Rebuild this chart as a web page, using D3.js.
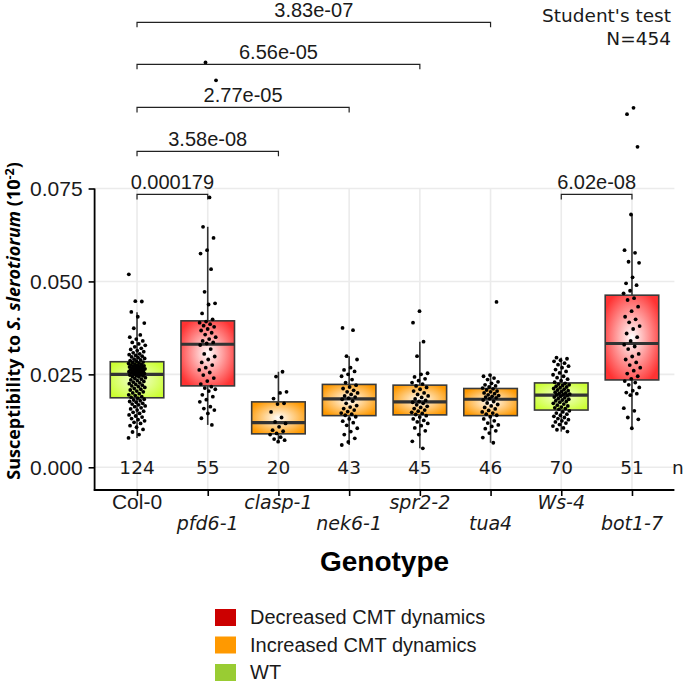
<!DOCTYPE html>
<html>
<head>
<meta charset="utf-8">
<script src="https://cdn.jsdelivr.net/npm/d3@7"></script>
<style>
  html, body { margin: 0; padding: 0; background: #fff; }
  svg { display: block; }
</style>
</head>
<body>
<svg id="chart" width="685" height="683"></svg>
<script>
// ---------------- DATA ----------------
const categories = ["Col-0", "pfd6-1", "clasp-1", "nek6-1", "spr2-2", "tua4", "Ws-4", "bot1-7"];
const italicLabel = [false, true, true, true, true, true, true, true];
const groupType = ["WT", "Decreased", "Increased", "Increased", "Increased", "Increased", "WT", "Decreased"];
const counts = [124, 55, 20, 43, 45, 46, 70, 51];

const q1 =          [0.0187, 0.0219, 0.0090, 0.0139, 0.0141, 0.0139, 0.0154, 0.0235];
const medians =     [0.0250, 0.0331, 0.0120, 0.0184, 0.0176, 0.0183, 0.0194, 0.0333];
const q3 =          [0.0284, 0.0394, 0.0176, 0.0223, 0.0221, 0.0212, 0.0227, 0.0463];
const whiskerLow =  [0.0079, 0.0114, 0.0069, 0.0060, 0.0051, 0.0066, 0.0096, 0.0105];
const whiskerHigh = [0.0417, 0.0647, 0.0257, 0.0299, 0.0338, 0.0248, 0.0295, 0.0680];

const ptsCol0 = [0.0079, 0.0088, 0.0095, 0.0102, 0.0108, 0.0112, 0.0118, 0.0121, 0.0125, 0.0128, 0.0131, 0.0135, 0.0138, 0.0141, 0.0145, 0.0148, 0.0151, 0.0154, 0.0157, 0.0160, 0.0163, 0.0165, 0.0168, 0.0170, 0.0172, 0.0175, 0.0177, 0.0179, 0.0181, 0.0183, 0.0186,
  0.0188, 0.0190, 0.0193, 0.0195, 0.0198, 0.0200, 0.0203, 0.0205, 0.0208, 0.0210, 0.0212, 0.0215, 0.0217, 0.0219, 0.0221, 0.0223, 0.0225, 0.0227, 0.0229, 0.0231, 0.0233, 0.0235, 0.0237, 0.0239, 0.0241, 0.0243, 0.0244, 0.0246, 0.0247, 0.0248, 0.0249,
  0.0251, 0.0252, 0.0253, 0.0254, 0.0255, 0.0256, 0.0257, 0.0258, 0.0259, 0.0260, 0.0261, 0.0262, 0.0263, 0.0264, 0.0265, 0.0266, 0.0267, 0.0268, 0.0269, 0.0270, 0.0271, 0.0272, 0.0273, 0.0274, 0.0275, 0.0276, 0.0277, 0.0279, 0.0280, 0.0282, 0.0283,
  0.0285, 0.0287, 0.0289, 0.0291, 0.0293, 0.0295, 0.0297, 0.0299, 0.0301, 0.0303, 0.0305, 0.0308, 0.0311, 0.0314, 0.0317, 0.0320, 0.0324, 0.0328, 0.0332, 0.0336, 0.0340, 0.0345, 0.0350, 0.0356, 0.0374, 0.0388, 0.0405, 0.0418, 0.0446, 0.0447, 0.0519];
const ptsPfd61 = [0.1089, 0.1041, 0.0726, 0.0647, 0.0617, 0.0584, 0.0575, 0.0533, 0.0472, 0.0441, 0.0438, 0.0414, 0.0398,
  0.0392, 0.0389, 0.0385, 0.0381, 0.0378, 0.0372, 0.0368, 0.0362, 0.0357, 0.0350, 0.0345, 0.0340, 0.0336, 0.0333,
  0.0329, 0.0318, 0.0305, 0.0298, 0.0290, 0.0282, 0.0275, 0.0268, 0.0262, 0.0255, 0.0248, 0.0240, 0.0232, 0.0224,
  0.0217, 0.0213, 0.0210, 0.0205, 0.0195, 0.0190, 0.0182, 0.0176, 0.0163, 0.0158, 0.0154, 0.0145, 0.0132, 0.0114];
const ptsClasp1 = [0.0257, 0.0244, 0.0203, 0.0200, 0.0185, 0.0172, 0.0170, 0.0149, 0.0134, 0.0122, 0.0118, 0.0109, 0.0100, 0.0097, 0.0091, 0.0088, 0.0081, 0.0076, 0.0073, 0.0069];
const ptsNek61 = [0.0375, 0.0369, 0.0299, 0.0290, 0.0268, 0.0262, 0.0258, 0.0250, 0.0245, 0.0236, 0.0228,
  0.0221, 0.0216, 0.0212, 0.0207, 0.0203, 0.0200, 0.0196, 0.0192, 0.0189, 0.0186,
  0.0183, 0.0178, 0.0172, 0.0166, 0.0162, 0.0158, 0.0154, 0.0150, 0.0146, 0.0143, 0.0140,
  0.0136, 0.0130, 0.0124, 0.0120, 0.0113, 0.0105, 0.0096, 0.0088, 0.0078, 0.0068, 0.0060];
const ptsSpr22 = [0.0420, 0.0389, 0.0338, 0.0299, 0.0253, 0.0250, 0.0243, 0.0238, 0.0233, 0.0228, 0.0224,
  0.0219, 0.0215, 0.0210, 0.0205, 0.0200, 0.0196, 0.0192, 0.0188, 0.0184, 0.0180, 0.0177,
  0.0175, 0.0172, 0.0168, 0.0164, 0.0161, 0.0158, 0.0154, 0.0151, 0.0148, 0.0145, 0.0142,
  0.0139, 0.0135, 0.0130, 0.0126, 0.0122, 0.0118, 0.0112, 0.0106, 0.0098, 0.0088, 0.0070, 0.0051];
const ptsTua4 = [0.0445, 0.0248, 0.0245, 0.0240, 0.0236, 0.0230, 0.0226, 0.0222, 0.0219, 0.0216, 0.0213,
  0.0211, 0.0208, 0.0205, 0.0203, 0.0200, 0.0198, 0.0195, 0.0193, 0.0191, 0.0189, 0.0187, 0.0185,
  0.0181, 0.0177, 0.0173, 0.0169, 0.0165, 0.0161, 0.0157, 0.0153, 0.0149, 0.0146, 0.0143, 0.0140,
  0.0136, 0.0130, 0.0125, 0.0119, 0.0114, 0.0110, 0.0104, 0.0098, 0.0092, 0.0080, 0.0066];
const ptsWs4 = [0.0295, 0.0292, 0.0288, 0.0285, 0.0280, 0.0276, 0.0272, 0.0268, 0.0263, 0.0258, 0.0254, 0.0249, 0.0245, 0.0241, 0.0237, 0.0233, 0.0229,
  0.0226, 0.0224, 0.0222, 0.0220, 0.0218, 0.0216, 0.0214, 0.0212, 0.0210, 0.0208, 0.0206, 0.0204, 0.0202, 0.0200, 0.0199, 0.0197, 0.0196, 0.0195,
  0.0193, 0.0191, 0.0189, 0.0187, 0.0185, 0.0183, 0.0181, 0.0179, 0.0177, 0.0175, 0.0172, 0.0170, 0.0167, 0.0165, 0.0162, 0.0160, 0.0158, 0.0156,
  0.0152, 0.0149, 0.0146, 0.0143, 0.0140, 0.0137, 0.0134, 0.0131, 0.0128, 0.0125, 0.0122, 0.0119, 0.0115, 0.0111, 0.0106, 0.0101, 0.0096];
const ptsBot17 = [0.0967, 0.0950, 0.0862, 0.0680, 0.0584, 0.0577, 0.0553, 0.0550, 0.0511, 0.0495, 0.0490, 0.0475, 0.0468,
  0.0455, 0.0450, 0.0432, 0.0420, 0.0405, 0.0398, 0.0390, 0.0380, 0.0372, 0.0360, 0.0350, 0.0340,
  0.0330, 0.0325, 0.0318, 0.0305, 0.0298, 0.0290, 0.0282, 0.0275, 0.0268, 0.0260, 0.0252, 0.0245, 0.0238,
  0.0232, 0.0228, 0.0222, 0.0215, 0.0206, 0.0201, 0.0198, 0.0194, 0.0159, 0.0152, 0.0134, 0.0129, 0.0105];
const pointSets = [ptsCol0, ptsPfd61, ptsClasp1, ptsNek61, ptsSpr22, ptsTua4, ptsWs4, ptsBot17];

const yTicks = [0.000, 0.025, 0.050, 0.075];
const yTickLabels = ["0.000", "0.025", "0.050", "0.075"];

// comparisons (Student's t-test)
const compFrom = ["Col-0", "Col-0", "Col-0", "Col-0", "Col-0", "Ws-4"];
const compTo = ["pfd6-1", "clasp-1", "nek6-1", "spr2-2", "tua4", "bot1-7"];
const compLabel = ["0.000179", "3.58e-08", "2.77e-05", "6.56e-05", "3.83e-07", "6.02e-08"];
const compY = [0.0734, 0.0850, 0.0968, 0.1084, 0.1197, 0.0734];

const legendKeys = ["Decreased", "Increased", "WT"];
const legendLabels = ["Decreased CMT dynamics", "Increased CMT dynamics", "WT"];
const legendColors = ["#CC0000", "#FF9900", "#99CC33"];
const boxEdgeColors = { Decreased: "#FF3333", Increased: "#FF9900", WT: "#CCFF33" };
const boxCenterColors = { Decreased: "#FFFFFF", Increased: "#FFFFFF", WT: "#F4FFD8" };

// ---------------- LAYOUT ----------------
const svg = d3.select("#chart");
const panel = { left: 94.6, right: 674.4, top: 188.5, bottom: 490 };

const x = d3.scalePoint().domain(categories).range([panel.left, panel.right]).padding(0.6);
const y = d3.scaleLinear().domain([0, 0.075]).range([467.3, 188.5]);
const step = x.step();
const boxW = step * 0.757;

// gradients
const defs = svg.append("defs");
Object.keys(boxEdgeColors).forEach(k => {
  const g = defs.append("radialGradient").attr("id", "grad-" + k)
    .attr("cx", "50%").attr("cy", "50%").attr("r", "60%");
  g.append("stop").attr("offset", "0%").attr("stop-color", boxCenterColors[k]);
  g.append("stop").attr("offset", "100%").attr("stop-color", boxEdgeColors[k]);
});

// grid
const grid = svg.append("g");
grid.selectAll("line.h").data(yTicks).join("line")
  .attr("x1", panel.left).attr("x2", panel.right)
  .attr("y1", d => y(d)).attr("y2", d => y(d))
  .attr("stroke", "#EBEBEB").attr("stroke-width", 1.6);
grid.selectAll("line.v").data(categories).join("line")
  .attr("x1", d => x(d)).attr("x2", d => x(d))
  .attr("y1", panel.top).attr("y2", panel.bottom)
  .attr("stroke", "#EBEBEB").attr("stroke-width", 1.6);

// boxes
const boxes = svg.append("g");
categories.forEach((c, i) => {
  const cx = x(c);
  const g = boxes.append("g");
  g.append("line").attr("x1", cx).attr("x2", cx)
    .attr("y1", y(q3[i])).attr("y2", y(whiskerHigh[i]))
    .attr("stroke", "#333").attr("stroke-width", 1.6);
  g.append("line").attr("x1", cx).attr("x2", cx)
    .attr("y1", y(q1[i])).attr("y2", y(whiskerLow[i]))
    .attr("stroke", "#333").attr("stroke-width", 1.6);
  g.append("rect").attr("x", cx - boxW / 2).attr("width", boxW)
    .attr("y", y(q3[i])).attr("height", y(q1[i]) - y(q3[i]))
    .attr("fill", "url(#grad-" + groupType[i] + ")")
    .attr("stroke", "#3a3a3a").attr("stroke-width", 1.6);
  g.append("line").attr("x1", cx - boxW / 2).attr("x2", cx + boxW / 2)
    .attr("y1", y(medians[i])).attr("y2", y(medians[i]))
    .attr("stroke", "#333").attr("stroke-width", 3.2);
});

// jittered points
const pts = svg.append("g");
pointSets.forEach((vals, i) => {
  const cx = x(categories[i]);
  pts.selectAll(null).data(vals).join("circle")
    .attr("cx", (d, j) => cx + (((j * 0.6180339887 + i * 0.37) % 1) - 0.5) * 17)
    .attr("cy", d => y(d))
    .attr("r", 1.9)
    .attr("fill", "#000");
});

// axes
const yAxis = d3.axisLeft(y).tickValues(yTicks).tickFormat((d, i) => yTickLabels[i]).tickSize(6).tickPadding(6);
const gy = svg.append("g").attr("transform", `translate(${panel.left},0)`).call(yAxis);
gy.select(".domain").remove();
gy.append("line").attr("x1", 0).attr("x2", 0).attr("y1", panel.top).attr("y2", panel.bottom + 0.8)
  .attr("stroke", "#000").attr("stroke-width", 1.8);
gy.selectAll(".tick line").attr("stroke", "#000").attr("stroke-width", 1.6);
gy.selectAll(".tick text").attr("font-family", "Liberation Sans, Arial, sans-serif")
  .attr("font-size", 21).attr("fill", "#1a1a1a");

const xAxis = d3.axisBottom(x).tickSize(6).tickFormat("");
const gx = svg.append("g").attr("transform", `translate(0,${panel.bottom})`).call(xAxis);
gx.select(".domain").remove();
gx.append("line").attr("x1", panel.left - 0.8).attr("x2", panel.right).attr("y1", 0).attr("y2", 0)
  .attr("stroke", "#000").attr("stroke-width", 1.8);
gx.selectAll(".tick line").attr("stroke", "#000").attr("stroke-width", 1.6);

// x labels (staggered)
svg.append("g").selectAll("text").data(categories).join("text")
  .attr("x", d => x(d))
  .attr("y", (d, i) => i % 2 === 0 ? 509 : 530)
  .attr("text-anchor", "middle")
  .attr("font-family", (d, i) => italicLabel[i] ? "DejaVu Sans, sans-serif" : "Liberation Sans, Arial, sans-serif")
  .attr("font-style", (d, i) => italicLabel[i] ? "italic" : "normal")
  .attr("font-size", (d, i) => italicLabel[i] ? 19 : 21)
  .attr("fill", "#1a1a1a")
  .text(d => d);

// x title
svg.append("text").attr("x", (panel.left + panel.right) / 2).attr("y", 571)
  .attr("text-anchor", "middle").attr("font-family", "Liberation Sans, Arial, sans-serif")
  .attr("font-weight", "bold").attr("font-size", 28).attr("fill", "#000").text("Genotype");

// y title
const yt = svg.append("text")
  .attr("transform", `translate(20,321) rotate(-90)`)
  .attr("text-anchor", "middle").attr("font-family", "Open Sans, sans-serif")
  .attr("font-weight", "bold").attr("font-size", 18).attr("fill", "#000");
yt.append("tspan").text("Susceptibility to ");
yt.append("tspan").attr("font-style", "italic").text("S. slerotiorum");
yt.append("tspan").text(" (10");
yt.append("tspan").attr("dy", -6.5).attr("font-size", 12.5).text("-2");
yt.append("tspan").attr("dy", 6.5).text(")");

// n counts
svg.append("g").selectAll("text").data(counts).join("text")
  .attr("x", (d, i) => x(categories[i])).attr("y", 474)
  .attr("text-anchor", "middle").attr("font-family", "DejaVu Sans, sans-serif")
  .attr("font-size", 18.5).attr("fill", "#1a1a1a").text(d => d);
svg.append("text").attr("x", 672).attr("y", 474)
  .attr("font-family", "DejaVu Sans, sans-serif").attr("font-size", 18.5).attr("fill", "#1a1a1a").text("n");

// comparison brackets
const br = svg.append("g");
compLabel.forEach((lab, i) => {
  const x1 = x(compFrom[i]), x2 = x(compTo[i]), yy = y(compY[i]);
  br.append("path")
    .attr("d", `M${x1},${yy + 5}V${yy}H${x2}V${yy + 5}`)
    .attr("fill", "none").attr("stroke", "#222").attr("stroke-width", 1.2);
  br.append("text").attr("x", (x1 + x2) / 2).attr("y", yy - 5.5)
    .attr("text-anchor", "middle").attr("font-family", "Liberation Sans, Arial, sans-serif")
    .attr("font-size", 20).attr("fill", "#1a1a1a").text(lab);
});

// test annotation
svg.append("text").attr("x", 671).attr("y", 22).attr("text-anchor", "end")
  .attr("font-family", "DejaVu Sans, sans-serif").attr("font-size", 18.5).attr("fill", "#1a1a1a")
  .text("Student's test");
svg.append("text").attr("x", 671).attr("y", 45).attr("text-anchor", "end")
  .attr("font-family", "DejaVu Sans, sans-serif").attr("font-size", 18.5).attr("fill", "#1a1a1a")
  .text("N=454");

// legend
const lg = svg.append("g");
legendKeys.forEach((k, i) => {
  const yy = 609 + i * 27.5;
  lg.append("rect").attr("x", 215).attr("y", yy).attr("width", 21).attr("height", 17)
    .attr("fill", legendColors[i]);
  lg.append("text").attr("x", 250).attr("y", yy + 15)
    .attr("font-family", "Liberation Sans, Arial, sans-serif").attr("font-size", 20)
    .attr("fill", "#1a1a1a").text(legendLabels[i]);
});
</script>
</body>
</html>
